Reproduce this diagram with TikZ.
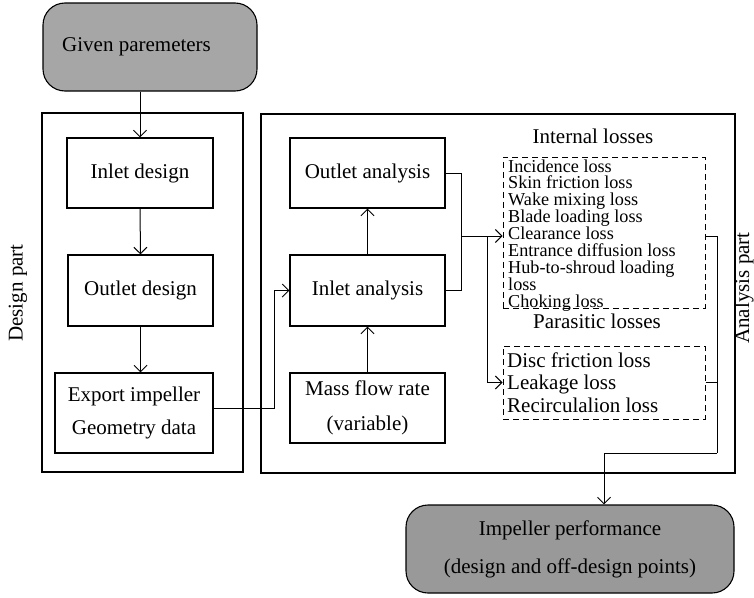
\documentclass[tikz,border=0pt]{standalone}
\usepackage{fontspec}
\setmainfont{Liberation Serif}
\usetikzlibrary{arrows.meta}

\newcommand\bigtxt{\fontsize{21}{24}\selectfont}
\newcommand\smalltxt{\fontsize{18.2}{17}\selectfont}

\tikzset{
  blk/.style={draw, line width=1.1pt, inner sep=0pt, font=\bigtxt, align=center},
  roundblk/.style={blk, rounded corners=22pt, fill=#1},
  dashblk/.style={draw, line width=1pt, dash pattern=on 6pt off 4pt, inner sep=0pt},
  link/.style={line width=1pt},
  arr/.style={link, -{Straight Barb[length=6.5pt,width=13pt]}},
  side/.style={font=\bigtxt, rotate=90},
}

\begin{document}
\begin{tikzpicture}[x=1pt,y=-1pt]
\useasboundingbox (0,0) rectangle (754,597);

% start and end terminals
\node[roundblk=black!35, minimum width=214pt, minimum height=88pt] (given) at (150,47) {};
\node[font=\bigtxt, anchor=west, inner sep=0pt] (giventxt) at (62,47) {Given paremeters};

\node[roundblk=black!40, minimum width=328pt, minimum height=88pt,
      font=\fontsize{21}{38}\selectfont] (perf) at (570,549)
      {Impeller performance\\(design and off-design points)};

% design part
\node[draw, line width=1.1pt, minimum width=201pt, minimum height=359pt] (dframe) at (142.5,292.5) {};
\node[side] (dlabel) at (18,293) {Design part};
\node[blk, minimum width=146pt, minimum height=70pt] (idesign) at (140,173) {Inlet design};
\node[blk, minimum width=145pt, minimum height=71pt] (odesign) at (140.5,290.5) {Outlet design};
\node[blk, minimum width=158pt, minimum height=80pt,
      font=\fontsize{21}{33}\selectfont] (export) at (134,413) {Export impeller\\Geometry data};

% analysis part
\node[draw, line width=1.1pt, minimum width=474pt, minimum height=359pt] (aframe) at (498,293.5) {};
\node[side] (alabel) at (744,288) {Analysis part};
\node[blk, minimum width=155pt, minimum height=70pt] (oanal) at (367.5,173) {Outlet analysis};
\node[blk, minimum width=155pt, minimum height=71pt] (ianal) at (367.5,290.5) {Inlet analysis};
\node[blk, minimum width=155pt, minimum height=70pt,
      font=\fontsize{21}{35}\selectfont] (mass) at (367.5,408) {Mass flow rate\\(variable)};

% loss groups
\node[font=\bigtxt, anchor=base] (ititle) at (593,143) {Internal losses};
\node[dashblk, minimum width=202pt, minimum height=151pt] (internal) at (604,232.5) {};
\foreach \t [count=\i from 0] in {Incidence loss, Skin friction loss, Wake mixing loss,
    Blade loading loss, Clearance loss, Entrance diffusion loss,
    Hub-to-shroud loading, loss, Choking loss}
  \node[font=\smalltxt, anchor=base west, inner sep=0pt] (iloss\i) at (508,172+16.9*\i) {\t};

\node[font=\bigtxt, anchor=base] (ptitle) at (597,328) {Parasitic losses};
\node[dashblk, minimum width=202pt, minimum height=73pt] (parasitic) at (604,382.5) {};
\foreach \t [count=\i from 0] in {Disc friction loss, Leakage loss, Recirculalion loss}
  \node[font=\bigtxt, anchor=base west, inner sep=0pt] (ploss\i) at (507,367+22.5*\i) {\t};

% junction points
\coordinate (jA) at (461,236);
\coordinate (jB) at (487,236);
\coordinate (jC) at (274,408);
\coordinate (jD) at (717,236);
\coordinate (jE) at (717,453);
\coordinate (jF) at (604,453);

% design flow
\draw[arr] (given.south -| idesign.north) -- (idesign.north);
\draw[arr] (idesign.south) -- (odesign.north);
\draw[arr] (odesign.south) -- (odesign.south |- export.north);
\draw[arr] (export.east |- jC) -- (jC) |- (ianal.west);

% analysis flow
\draw[arr] (mass.north) -- (ianal.south);
\draw[arr] (ianal.north) -- (oanal.south);
\draw[link] (oanal.east) -| (jA);
\draw[link] (ianal.east) -| (jA);
\draw[arr] (jA) -- (internal.west |- jA);
\draw[arr] (jB) |- (parasitic.west);

% losses to performance
\draw[link] (internal.east |- jD) -- (jD) -- (jE);
\draw[link] (parasitic.east) -| (jE);
\draw[arr] (jE) -- (jF) -- (perf.north -| jF);
\end{tikzpicture}
\end{document}
